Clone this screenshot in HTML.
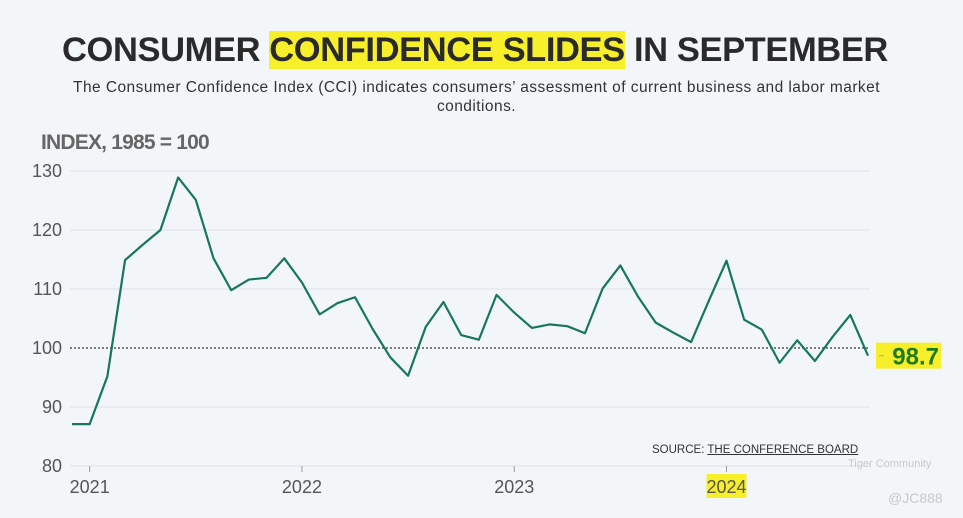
<!DOCTYPE html>
<html><head><meta charset="utf-8">
<style>
body{margin:0;width:963px;height:518px;background:#f3f6f9;font-family:"Liberation Sans",sans-serif;overflow:hidden;position:relative}
.hl{background:#f7ef2a}
</style></head>
<body>
<div style="position:absolute;top:31px;left:0;width:950px;text-align:center;font-size:34.5px;font-weight:bold;color:#2a2a2a;letter-spacing:-0.4px">CONSUMER <span class="hl">CONFIDENCE SLIDES</span> IN SEPTEMBER</div>
<div style="position:absolute;top:78px;left:40px;width:873px;text-align:center;font-size:15.5px;color:#333;line-height:19px;letter-spacing:0.45px">The Consumer Confidence Index (CCI) indicates consumers’ assessment of current business and labor market<br>conditions.</div>
<div style="position:absolute;top:131px;left:41px;font-size:21px;font-weight:bold;color:#666;letter-spacing:-0.8px">INDEX, 1985 = 100</div>
<svg id="chart" width="963" height="518" style="position:absolute;left:0;top:0"></svg>
<div style="position:absolute;top:444px;left:652px;font-size:11.5px;color:#333">SOURCE: <span style="text-decoration:underline">THE CONFERENCE BOARD</span></div>
<div style="position:absolute;top:458px;left:848px;font-size:11px;color:#c8c8c8">Tiger Community</div>
<div style="position:absolute;top:490px;left:888px;font-size:14px;color:#c8c8c8">@JC888</div>
<script>
const months=["Dec20","Jan21","Feb21","Mar21","Apr21","May21","Jun21","Jul21","Aug21","Sep21","Oct21","Nov21","Dec21","Jan22","Feb22","Mar22","Apr22","May22","Jun22","Jul22","Aug22","Sep22","Oct22","Nov22","Dec22","Jan23","Feb23","Mar23","Apr23","May23","Jun23","Jul23","Aug23","Sep23","Oct23","Nov23","Dec23","Jan24","Feb24","Mar24","Apr24","May24","Jun24","Jul24","Aug24","Sep24"];
const values=[87.1,87.1,95.2,114.9,117.5,120.0,128.9,125.1,115.2,109.8,111.6,111.9,115.2,111.1,105.7,107.6,108.6,103.2,98.4,95.3,103.6,107.8,102.2,101.4,109.0,106.0,103.4,104.0,103.7,102.5,110.1,114.0,108.7,104.3,102.6,101.0,108.0,114.8,104.8,103.1,97.5,101.3,97.8,101.9,105.6,98.7];
const yTicks=[80,90,100,110,120,130];
const yearLabels=["2021","2022","2023","2024"];
const yearIdx=[1,13,25,37];
const svg=document.getElementById('chart');
const NS="http://www.w3.org/2000/svg";
const xs=i=>72+i*(868-72)/45;
const ys=v=>466-(v-80)*5.9;
function mk(t,a){const e=document.createElementNS(NS,t);for(const k in a)e.setAttribute(k,a[k]);svg.appendChild(e);return e;}
yTicks.forEach(v=>{
  const g=mk('line',{x1:70,x2:870,y1:ys(v),y2:ys(v),stroke:v===100?'#333':'#dde2e7','stroke-width':v===100?1.3:1,'stroke-dasharray':v===100?'2,2':''});
  
  
  const t=mk('text',{x:62,y:ys(v)+6,'text-anchor':'end','font-size':18,fill:'#555','font-family':'Liberation Sans'});
  t.textContent=v;
  
  
});
yearLabels.forEach((y,k)=>{
  const x=xs(yearIdx[k]);
  const tk=mk('line',{x1:x,x2:x,y1:466,y2:472,stroke:'#999'});
  
  
  if(y==="2024"){const r=mk('rect',{x:x-20,y:474,width:40,height:24,fill:'#f7ef2a'});}
  const t=mk('text',{x:x,y:493,'text-anchor':'middle','font-size':18,fill:'#555','font-family':'Liberation Sans'});
  t.textContent=y;
  
  
});
const p=mk('polyline',{points:values.map((v,i)=>xs(i)+','+ys(v)).join(' '),fill:'none',stroke:'#17765e','stroke-width':2.2,'stroke-linejoin':'round'});


const last=values[values.length-1];
const ly=ys(last);
const lb=mk('rect',{x:876,y:ly-13,width:65,height:26,fill:'#f7ef2a'});


const ld=mk('line',{x1:879,x2:884,y1:ly,y2:ly,stroke:'#aaa'});


const lt=mk('text',{x:939,y:ly+9,'text-anchor':'end','font-size':24,'font-weight':'bold',fill:'#1d7a1d','font-family':'Liberation Sans'});
lt.textContent=last.toFixed(1);


</script>
</body></html>
